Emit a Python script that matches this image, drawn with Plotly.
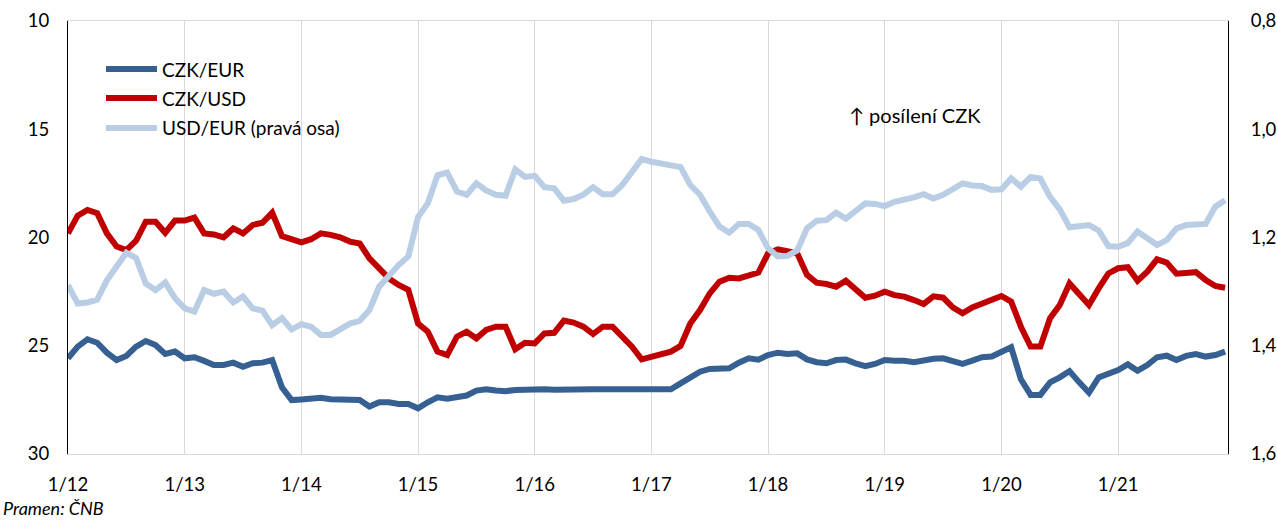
import plotly.graph_objects as go

# --- data (monthly, 1/2012 .. 12/2021) ---
czk_eur = [25.58, 25.04, 24.70, 24.86, 25.32, 25.66, 25.47, 25.04, 24.78, 24.97, 25.38, 25.27,
           25.58, 25.53, 25.70, 25.89, 25.89, 25.78, 25.97, 25.81, 25.78, 25.66, 26.92, 27.51,
           27.48, 27.45, 27.40, 27.47, 27.47, 27.48, 27.51, 27.81, 27.61, 27.61, 27.69, 27.69,
           27.89, 27.61, 27.38, 27.45, 27.38, 27.30, 27.07, 27.01, 27.07, 27.10, 27.04, 27.01,
           27.01, 27.01, 27.03, 27.01, 27.04, 27.03, 27.01, 27.01, 27.01, 27.03, 27.03, 27.03,
           27.01, 27.01, 27.01, 26.74, 26.47, 26.20, 26.07, 26.07, 26.04, 25.78, 25.58, 25.64,
           25.43, 25.32, 25.38, 25.35, 25.63, 25.76, 25.81, 25.66, 25.64, 25.81, 25.94, 25.84,
           25.66, 25.69, 25.69, 25.76, 25.66, 25.60, 25.58, 25.73, 25.84, 25.69, 25.53, 25.50,
           25.27, 25.07, 26.55, 27.27, 27.27, 26.69, 26.46, 26.17, 26.69, 27.17, 26.46, 26.30,
           26.12, 25.86, 26.15, 25.89, 25.53, 25.46, 25.66, 25.47, 25.38, 25.50, 25.43, 25.27]

czk_usd = [19.81, 18.99, 18.73, 18.88, 19.81, 20.42, 20.58, 20.15, 19.27, 19.27, 19.78, 19.22,
           19.22, 19.08, 19.81, 19.86, 19.99, 19.58, 19.81, 19.42, 19.32, 18.85, 19.93, 20.08,
           20.22, 20.08, 19.81, 19.88, 19.99, 20.19, 20.28, 20.96, 21.47, 21.89, 22.19, 22.42,
           23.97, 24.35, 25.27, 25.43, 24.58, 24.35, 24.66, 24.27, 24.12, 24.12, 25.16, 24.86,
           24.89, 24.43, 24.40, 23.84, 23.93, 24.12, 24.46, 24.12, 24.12, 24.58, 25.04, 25.63,
           25.50, 25.43, 25.27, 25.01, 23.97, 23.35, 22.58, 22.04, 21.86, 21.89, 21.73, 21.62,
           20.73, 20.55, 20.63, 20.73, 21.73, 22.09, 22.15, 22.27, 22.00, 22.42, 22.78, 22.69,
           22.50, 22.66, 22.73, 22.89, 23.07, 22.72, 22.78, 23.23, 23.50, 23.23, 23.07, 22.92,
           22.70, 22.96, 24.12, 25.04, 25.04, 23.73, 23.12, 22.12, 22.66, 23.12, 22.35, 21.66,
           21.42, 21.37, 22.00, 21.58, 21.01, 21.16, 21.67, 21.66, 21.60, 21.96, 22.24, 22.32]

usd_eur = [1.288, 1.322, 1.320, 1.315, 1.279, 1.251, 1.228, 1.238, 1.285, 1.297, 1.283, 1.312,
           1.331, 1.337, 1.297, 1.304, 1.300, 1.320, 1.309, 1.331, 1.335, 1.362, 1.349, 1.370,
           1.360, 1.365, 1.380, 1.380, 1.371, 1.359, 1.354, 1.334, 1.291, 1.269, 1.251, 1.235,
           1.162, 1.137, 1.085, 1.080, 1.115, 1.121, 1.100, 1.113, 1.121, 1.123, 1.074, 1.088,
           1.086, 1.107, 1.109, 1.132, 1.129, 1.121, 1.107, 1.120, 1.120, 1.103, 1.081, 1.055,
           1.060, 1.063, 1.067, 1.070, 1.103, 1.121, 1.152, 1.180, 1.191, 1.175, 1.175, 1.186,
           1.220, 1.235, 1.234, 1.224, 1.183, 1.169, 1.168, 1.154, 1.165, 1.150, 1.137, 1.138,
           1.142, 1.134, 1.131, 1.126, 1.120, 1.128, 1.121, 1.111, 1.100, 1.104, 1.105, 1.112,
           1.111, 1.091, 1.106, 1.088, 1.091, 1.125, 1.148, 1.181, 1.179, 1.177, 1.187, 1.216,
           1.217, 1.210, 1.189, 1.200, 1.214, 1.205, 1.183, 1.177, 1.177, 1.175, 1.143, 1.131]

months = list(range(len(czk_eur)))
tick_labels = ["1/12", "1/13", "1/14", "1/15", "1/16", "1/17", "1/18", "1/19", "1/20", "1/21"]
tick_positions = [12 * k for k in range(len(tick_labels))]

series_names = ["CZK/EUR", "CZK/USD", "USD/EUR (pravá osa)"]
colors = ["#376092", "#C00000", "#B9CDE5"]

FONT = "Lato, 'Noto Sans', 'DejaVu Sans', sans-serif"

fig = go.Figure()
fig.add_trace(go.Scatter(x=months, y=usd_eur, name=series_names[2], yaxis="y2", mode="lines",
                         line=dict(color=colors[2], width=6)))
fig.add_trace(go.Scatter(x=months, y=czk_usd, name=series_names[1], mode="lines",
                         line=dict(color=colors[1], width=6)))
fig.add_trace(go.Scatter(x=months, y=czk_eur, name=series_names[0], mode="lines",
                         line=dict(color=colors[0], width=6)))

# figure fills the window (body margin removed via post_script)
FW, FH = 1277, 521
PL, PR, PT, PB = 68, 1228, 21, 454          # plot area in window pixels
L, R, T, B = PL, FW - PR, PT, FH - PB

def px(x): return (x - PL) / (PR - PL)
def py(y): return (PB - y) / (PB - PT)

shapes = []
annotations = []
for name, col, yy in zip(series_names, colors, [69, 98, 128]):
    shapes.append(dict(type="line", xref="paper", yref="paper", x0=px(106), x1=px(157),
                       y0=py(yy), y1=py(yy), line=dict(color=col, width=6)))
    annotations.append(dict(xref="paper", yref="paper", x=px(160), y=py(yy), text=name,
                            showarrow=False, xanchor="left", yanchor="middle",
                            font=dict(family=FONT, size=19, color="#000000")))

annotations.append(dict(xref="paper", yref="paper", x=px(915), y=py(115), text="↑ posílení CZK",
                        showarrow=False, xanchor="center", yanchor="middle",
                        font=dict(family=FONT, size=20, color="#000000")))
annotations.append(dict(xref="paper", yref="paper", x=px(1), y=py(508), text="<i>Pramen: ČNB</i>",
                        showarrow=False, xanchor="left", yanchor="middle",
                        font=dict(family=FONT, size=18, color="#000000")))

fig.update_layout(
    width=FW, height=FH,
    margin=dict(l=L, r=R, t=T, b=B, autoexpand=False),
    paper_bgcolor="white", plot_bgcolor="white",
    separators=", ",
    showlegend=False,
    hovermode=False,
    font=dict(family=FONT, size=18, color="#000000"),
    xaxis=dict(range=[0, 119.3], tickvals=tick_positions, ticktext=tick_labels,
               showgrid=True, gridcolor="#D9D9D9", gridwidth=1, automargin=False,
               showline=True, linecolor="#D9D9D9", linewidth=1, mirror=True,
               ticks="", ticklabelstandoff=14, zeroline=False,
               tickfont=dict(family=FONT, size=18.5)),
    yaxis=dict(range=[30, 10], dtick=5, tick0=10, showgrid=False, zeroline=False,
               showline=True, linecolor="#000000", linewidth=1, ticks="", automargin=False,
               ticklabelstandoff=14, tickfont=dict(family=FONT, size=18.5)),
    yaxis2=dict(range=[1.6, 0.8], dtick=0.2, tick0=0.8, tickformat=".1f", overlaying="y",
                side="right", showgrid=False, zeroline=False, automargin=False,
                showline=True, linecolor="#000000", linewidth=1, ticks="",
                ticklabelstandoff=18, tickfont=dict(family=FONT, size=18.5)),
    shapes=shapes,
    annotations=annotations,
)

fig.write_html("out.html", config={"displayModeBar": False},
               post_script="document.body.style.margin='0';document.body.style.overflow='hidden';")
